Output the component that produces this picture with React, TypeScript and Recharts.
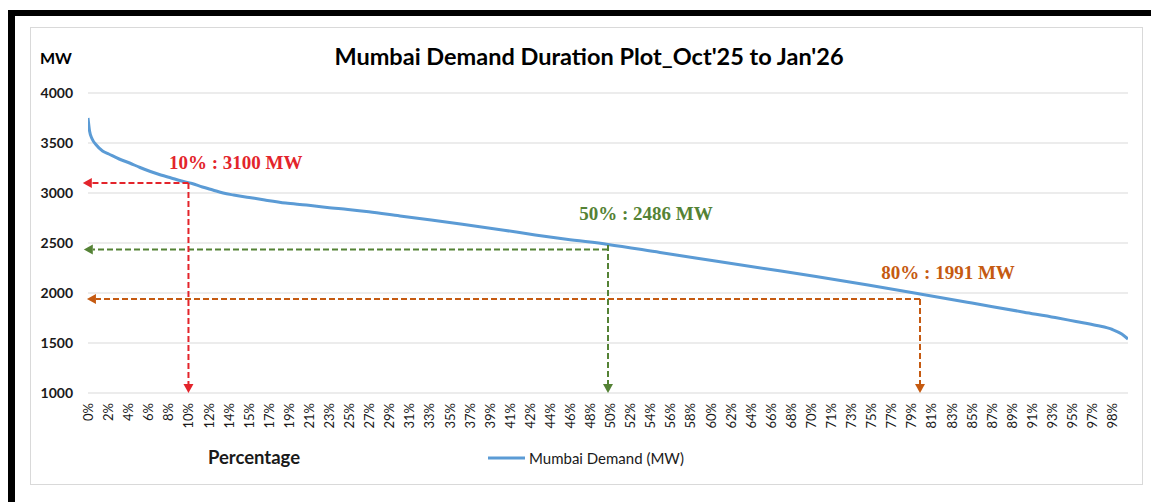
import React from 'react';
import { LineChart, Line, XAxis, YAxis, CartesianGrid, ReferenceLine, ReferenceDot } from 'recharts';

// ---- data ----
const percentValues = [0, 0.15, 0.4, 0.8, 1.4, 2, 3, 4, 5, 6, 7, 8, 9, 10, 11, 12, 13, 14, 15.5, 17, 19, 21, 23, 25, 27, 30, 33, 36, 40, 43, 46, 50, 55, 60, 65, 70, 75, 80, 85, 90, 93, 95, 97, 98.5, 99.4, 100];
const demandValues = [3750, 3620, 3540, 3480, 3420, 3390, 3340, 3300, 3255, 3215, 3180, 3150, 3120, 3095, 3060, 3030, 3000, 2980, 2955, 2930, 2900, 2880, 2855, 2835, 2812, 2770, 2730, 2688, 2628, 2580, 2537, 2486, 2405, 2325, 2245, 2165, 2080, 1991, 1900, 1808, 1755, 1715, 1675, 1635, 1590, 1540];

const xTickValues = [0, 1.93, 3.86, 5.79, 7.72, 9.66, 11.59, 13.52, 15.45, 17.38, 19.31, 21.24, 23.17, 25.1, 27.03, 28.97, 30.9, 32.83, 34.76, 36.69, 38.62, 40.55, 42.48, 44.41, 46.34, 48.28, 50.21, 52.14, 54.07, 56.0, 57.93, 59.86, 61.79, 63.72, 65.65, 67.59, 69.52, 71.45, 73.38, 75.31, 77.24, 79.17, 81.1, 83.03, 84.96, 86.9, 88.83, 90.76, 92.69, 94.62, 96.55, 98.48];
const xTickLabels = ['0%', '2%', '4%', '6%', '8%', '10%', '12%', '14%', '15%', '17%', '19%', '21%', '23%', '25%', '27%', '29%', '31%', '33%', '35%', '37%', '39%', '41%', '42%', '44%', '46%', '48%', '50%', '52%', '54%', '56%', '58%', '60%', '62%', '64%', '66%', '68%', '70%', '71%', '73%', '75%', '77%', '79%', '81%', '83%', '85%', '87%', '89%', '91%', '93%', '95%', '97%', '98%'];
const yTicks = [1000, 1500, 2000, 2500, 3000, 3500, 4000];

// annotations
const markerPct = [9.66, 50, 80];
const markerHorizY = [3100, 2435, 1940];
const markerVertStart = [3100, 2480, 1940];
const markerArrowLeft = [-0.5, -0.4, -0.1];
const markerText = ['10% : 3100 MW', '50% : 2486 MW', '80% : 1991 MW'];
const markerTextX = [14.2, 53.65, 82.7];
const markerTextY = [3310, 2800, 2205];
const markerColors = ['#e3242b', '#548235', '#c55a11'];

const seriesName = 'Mumbai Demand (MW)';
const title = "Mumbai Demand Duration Plot_Oct'25 to Jan'26";

const data = percentValues.map((p, i) => ({ pct: p, demand: demandValues[i] }));

const FONT = 'Lato, "Open Sans", sans-serif';

const XTick = (props: any) => {
  const { x, y, payload } = props;
  const idx = xTickValues.indexOf(payload.value);
  const label = idx >= 0 ? xTickLabels[idx] : '';
  const ty = y + 2;
  return (
    <text x={x} y={ty} transform={`rotate(-90 ${x} ${ty})`} textAnchor="end" dominantBaseline="central"
      fontFamily={FONT} fontSize={13} fill="#1a1a1a">{label}</text>
  );
};

const arrowShape = (color: string) => (props: any) => {
  const { x1, y1, x2, y2 } = props;
  const dx = x2 - x1;
  const dy = y2 - y1;
  const len = Math.sqrt(dx * dx + dy * dy) || 1;
  const ux = dx / len;
  const uy = dy / len;
  const ah = 9;
  const aw = 5;
  const bx = x2 - ux * ah;
  const by = y2 - uy * ah;
  const px = -uy;
  const py = ux;
  return (
    <g>
      <line x1={x1} y1={y1} x2={bx} y2={by} stroke={color} strokeWidth={2} strokeDasharray="6 3" />
      <polygon points={`${x2},${y2} ${bx + px * aw},${by + py * aw} ${bx - px * aw},${by - py * aw}`} fill={color} />
    </g>
  );
};

export default function App() {
  return (
    <div style={{ position: 'absolute', left: 0, top: 0, width: 1151, height: 502, background: '#fff', overflow: 'hidden' }}>
      {/* black frame */}
      <div style={{ position: 'absolute', left: 8, top: 10, width: 1200, height: 600, borderTop: '6px solid #000', borderLeft: '7px solid #000', boxSizing: 'border-box' }} />
      {/* chart box */}
      <div style={{ position: 'absolute', left: 30, top: 27, width: 1113, height: 458, border: '1px solid #d9d9d9', boxSizing: 'border-box' }} />
      <div style={{ position: 'absolute', left: 30, top: 27, width: 1113, height: 458 }}>
        <LineChart width={1113} height={458} data={data} margin={{ top: 66, right: 15, left: 8, bottom: 32 }}>
          <CartesianGrid horizontal={true} vertical={false} stroke="#d9d9d9" strokeWidth={1} />
          <XAxis dataKey="pct" type="number" domain={[0, 100]} ticks={xTickValues} interval={0}
            tick={<XTick />} axisLine={false} tickLine={false} height={60} allowDataOverflow />
          <YAxis type="number" domain={[1000, 4000]} ticks={yTicks} width={50} axisLine={false} tickLine={false}
            tickMargin={9} tick={{ fontFamily: FONT, fontSize: 14, fontWeight: 700, fill: '#1a1a1a' }} />
          <Line type="monotone" dataKey="demand" stroke="#5b9bd5" strokeWidth={3} dot={false} isAnimationActive={false} />
          {markerPct.map((p, i) => (
            <ReferenceLine key={'h' + i} ifOverflow="visible"
              segment={[{ x: p, y: markerHorizY[i] }, { x: markerArrowLeft[i], y: markerHorizY[i] }]}
              shape={arrowShape(markerColors[i])} />
          ))}
          {markerPct.map((p, i) => (
            <ReferenceLine key={'v' + i} ifOverflow="visible"
              segment={[{ x: p, y: markerVertStart[i] }, { x: p, y: 1000 }]}
              shape={arrowShape(markerColors[i])} />
          ))}
          {markerText.map((t, i) => (
            <ReferenceDot key={'t' + i} x={markerTextX[i]} y={markerTextY[i]} r={0} ifOverflow="visible"
              fill="none" stroke="none"
              label={{ value: t, position: 'center', fill: markerColors[i], fontSize: 19, fontWeight: 700, fontFamily: '"Liberation Serif", "Times New Roman", serif' }} />
          ))}
        </LineChart>
      </div>
      {/* title */}
      <div style={{ position: 'absolute', left: 0, width: 1178, top: 42, textAlign: 'center', fontFamily: FONT, fontWeight: 700, fontSize: 23.5, color: '#000', lineHeight: '28px' }}>{title}</div>
      <div style={{ position: 'absolute', left: 40, top: 48, fontFamily: FONT, fontWeight: 700, fontSize: 16, color: '#000', lineHeight: '20px' }}>MW</div>
      <div style={{ position: 'absolute', left: 154, width: 200, top: 445, textAlign: 'center', fontFamily: FONT, fontWeight: 700, fontSize: 18.5, color: '#1a1a1a', lineHeight: '24px' }}>Percentage</div>
      {/* legend */}
      <div style={{ position: 'absolute', left: 488, top: 448, display: 'flex', alignItems: 'center', fontFamily: FONT, fontSize: 15, color: '#1a1a1a', lineHeight: '20px' }}>
        <svg width={38} height={20}><line x1={0} y1={10} x2={37} y2={10} stroke="#5b9bd5" strokeWidth={3} /></svg>
        <span style={{ marginLeft: 3 }}>{seriesName}</span>
      </div>
    </div>
  );
}
